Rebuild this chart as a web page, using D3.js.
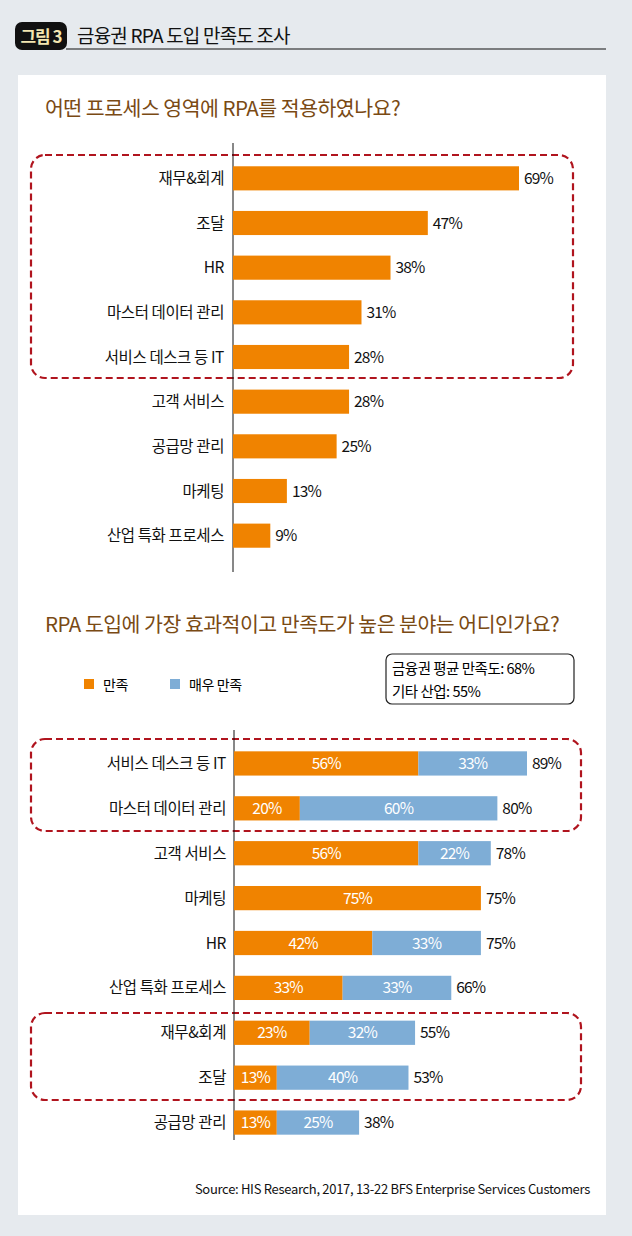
<!DOCTYPE html><html><head><meta charset="utf-8"><script src="https://cdn.jsdelivr.net/npm/d3@7"></script>
<style>body{margin:0;background:#e6eaee}text{font-family:"Noto Sans CJK KR","Noto Sans",sans-serif}</style></head><body>
<svg id="c" width="632" height="1236"></svg>
<script>
const cats1=["재무&회계","조달","HR","마스터 데이터 관리","서비스 데스크 등 IT","고객 서비스","공급망 관리","마케팅","산업 특화 프로세스"];
const vals1=[69,47,38,31,28,28,25,13,9];
const cats2=["서비스 데스크 등 IT","마스터 데이터 관리","고객 서비스","마케팅","HR","산업 특화 프로세스","재무&회계","조달","공급망 관리"];
const sat=[56,20,56,75,42,33,23,13,13];
const vsat=[33,60,22,0,33,33,32,40,25];
const total=[89,80,78,75,75,66,55,53,38];
const ORANGE="#f08300",BLUE="#7eadd6",BROWN="#7a4a14",RED="#b0141e";
const FS=15.5,LS=-0.4;
const svg=d3.select("#c");
svg.append("rect").attr("x",0).attr("y",0).attr("width",632).attr("height",1236).attr("fill","#e6eaee");
svg.append("rect").attr("x",15).attr("y",22).attr("width",52).attr("height",28).attr("rx",7).attr("fill","#111");
svg.append("text").attr("x",41).attr("y",43).attr("text-anchor","middle").attr("fill","#f3e6b0").attr("font-size",17).attr("font-weight","bold").attr("letter-spacing",-1).text("그림 3");
svg.append("text").attr("x",77).attr("y",43).attr("font-size",19).attr("fill","#111").attr("letter-spacing",-0.8).text("금융권 RPA 도입 만족도 조사");
svg.append("line").attr("x1",66).attr("x2",606).attr("y1",49).attr("y2",49).attr("stroke","#111").attr("stroke-width",1.2);
svg.append("rect").attr("x",18).attr("y",75).attr("width",588).attr("height",1140).attr("fill","#fff");
svg.append("text").attr("x",45).attr("y",116).attr("font-size",20.5).attr("fill",BROWN).attr("letter-spacing",-0.5).text("어떤 프로세스 영역에 RPA를 적용하였나요?");
svg.append("text").attr("x",45).attr("y",632).attr("font-size",20.5).attr("fill",BROWN).attr("letter-spacing",-0.5).text("RPA 도입에 가장 효과적이고 만족도가 높은 분야는 어디인가요?");
function box(x,y,w,h){svg.append("rect").attr("x",x).attr("y",y).attr("width",w).attr("height",h).attr("rx",14).attr("fill","none").attr("stroke",RED).attr("stroke-width",2.2).attr("stroke-dasharray","7,4");}
// chart 1
const x1=d3.scaleLinear().domain([0,69]).range([233,519]);
const y1=d3.scaleBand().domain(cats1).range([156,558]).paddingInner(0.46).paddingOuter(0.23);
box(31,155,542,223);
svg.append("line").attr("x1",233).attr("x2",233).attr("y1",143).attr("y2",572).attr("stroke","#111");
cats1.forEach((c,i)=>{const y=y1(c),h=y1.bandwidth();
svg.append("rect").attr("x",x1(0)).attr("y",y).attr("width",x1(vals1[i])-x1(0)).attr("height",h).attr("fill",ORANGE);
svg.append("text").attr("x",224).attr("y",y+h/2+5.5).attr("text-anchor","end").attr("font-size",FS).attr("letter-spacing",LS).attr("fill","#111").text(c);
svg.append("text").attr("x",x1(vals1[i])+5).attr("y",y+h/2+5.5).attr("font-size",FS).attr("letter-spacing",-0.8).attr("fill","#111").text(vals1[i]+"%");});
// legend + info
svg.append("rect").attr("x",84).attr("y",679).attr("width",10).attr("height",10).attr("fill",ORANGE);
svg.append("text").attr("x",103).attr("y",690).attr("font-size",14).attr("letter-spacing",-0.4).text("만족");
svg.append("rect").attr("x",170).attr("y",679).attr("width",10).attr("height",10).attr("fill",BLUE);
svg.append("text").attr("x",189).attr("y",690).attr("font-size",14).attr("letter-spacing",-0.4).text("매우 만족");
svg.append("rect").attr("x",386).attr("y",654).attr("width",188).attr("height",50).attr("rx",6).attr("fill","none").attr("stroke","#222").attr("stroke-width",1.2);
svg.append("text").attr("x",392).attr("y",674).attr("font-size",14.5).attr("letter-spacing",-0.5).text("금융권 평균 만족도: 68%");
svg.append("text").attr("x",392).attr("y",697).attr("font-size",14.5).attr("letter-spacing",-0.5).text("기타 산업: 55%");
// chart 2
const x2=d3.scaleLinear().domain([0,89]).range([234,527]);
const y2=d3.scaleBand().domain(cats2).range([741,1145]).paddingInner(0.46).paddingOuter(0.23);
box(31,739,550,92);box(31,1013,550,87);
svg.append("line").attr("x1",234).attr("x2",234).attr("y1",730).attr("y2",1140).attr("stroke","#111");
cats2.forEach((c,i)=>{const y=y2(c),h=y2.bandwidth(),cy=y+h/2+5.5;
svg.append("rect").attr("x",x2(0)).attr("y",y).attr("width",x2(sat[i])-x2(0)).attr("height",h).attr("fill",ORANGE);
if(vsat[i]>0)svg.append("rect").attr("x",x2(sat[i])).attr("y",y).attr("width",x2(sat[i]+vsat[i])-x2(sat[i])).attr("height",h).attr("fill",BLUE);
svg.append("text").attr("x",x2(sat[i]/2)).attr("y",cy).attr("text-anchor","middle").attr("font-size",FS).attr("letter-spacing",-0.8).attr("fill","#fff").text(sat[i]+"%");
if(vsat[i]>0)svg.append("text").attr("x",x2(sat[i]+vsat[i]/2)).attr("y",cy).attr("text-anchor","middle").attr("font-size",FS).attr("letter-spacing",-0.8).attr("fill","#fff").text(vsat[i]+"%");
svg.append("text").attr("x",226).attr("y",cy).attr("text-anchor","end").attr("font-size",FS).attr("letter-spacing",LS).attr("fill","#111").text(c);
svg.append("text").attr("x",x2(total[i])+5).attr("y",cy).attr("font-size",FS).attr("letter-spacing",-0.8).attr("fill","#111").text(total[i]+"%");});
svg.append("text").attr("x",590).attr("y",1194).attr("text-anchor","end").attr("font-size",13).attr("letter-spacing",-0.3).attr("fill","#111").text("Source: HIS Research, 2017, 13-22 BFS Enterprise Services Customers");
</script></body></html>
